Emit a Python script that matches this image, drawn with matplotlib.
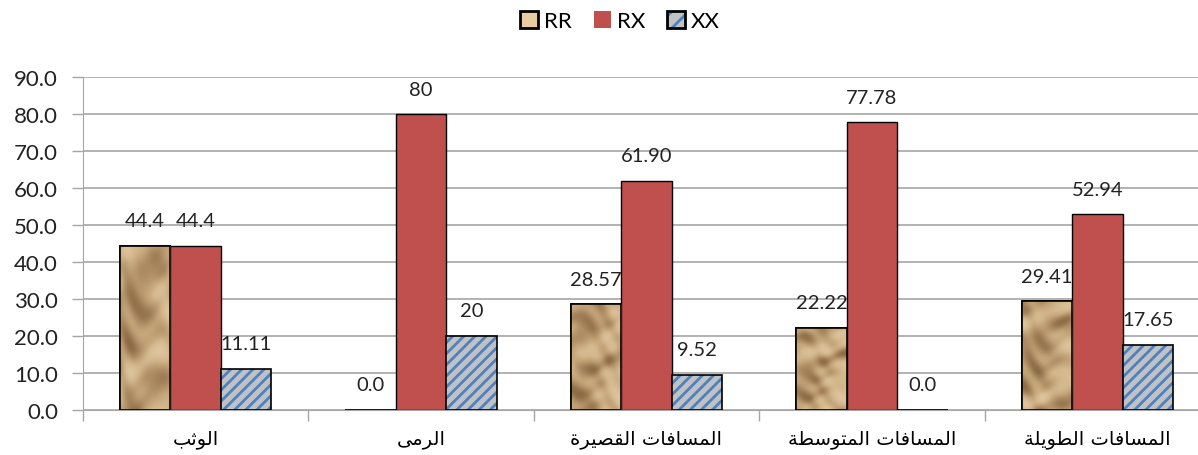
import numpy as np
import matplotlib
matplotlib.use('Agg')
import matplotlib.pyplot as plt
from matplotlib.patches import Patch

# Data.
categories = ['الوثب', 'الرمى', 'المسافات القصيرة', 'المسافات المتوسطة', 'المسافات الطويلة']
rr = [44.4, 0.0, 28.57, 22.22, 29.41]
rx = [44.4, 80, 61.90, 77.78, 52.94]
xx = [11.11, 20, 9.52, 0.0, 17.65]
rr_labels = ['44.4', '0.0', '28.57', '22.22', '29.41']
rx_labels = ['44.4', '80', '61.90', '77.78', '52.94']
xx_labels = ['11.11', '20', '9.52', '0.0', '17.65']
series_names = ['RR', 'RX', 'XX']

# Minimal Arabic shaping (matplotlib has no shaping / bidi of its own).
FORMS = {
    'ا': ('\uFE8D', '\uFE8E', None, None),
    'ب': ('\uFE8F', '\uFE90', '\uFE91', '\uFE92'),
    'ة': ('\uFE93', '\uFE94', None, None),
    'ت': ('\uFE95', '\uFE96', '\uFE97', '\uFE98'),
    'ث': ('\uFE99', '\uFE9A', '\uFE9B', '\uFE9C'),
    'ر': ('\uFEAD', '\uFEAE', None, None),
    'س': ('\uFEB1', '\uFEB2', '\uFEB3', '\uFEB4'),
    'ص': ('\uFEB9', '\uFEBA', '\uFEBB', '\uFEBC'),
    'ط': ('\uFEC1', '\uFEC2', '\uFEC3', '\uFEC4'),
    'ف': ('\uFED1', '\uFED2', '\uFED3', '\uFED4'),
    'ق': ('\uFED5', '\uFED6', '\uFED7', '\uFED8'),
    'ل': ('\uFEDD', '\uFEDE', '\uFEDF', '\uFEE0'),
    'م': ('\uFEE1', '\uFEE2', '\uFEE3', '\uFEE4'),
    'و': ('\uFEED', '\uFEEE', None, None),
    'ى': ('\uFEEF', '\uFEF0', None, None),
    'ي': ('\uFEF1', '\uFEF2', '\uFEF3', '\uFEF4'),
}


def shape(text):
    out = []
    for i, ch in enumerate(text):
        if ch not in FORMS:
            out.append(ch)
            continue
        prev = text[i - 1] if i > 0 else ''
        nxt = text[i + 1] if i + 1 < len(text) else ''
        join_prev = prev in FORMS and FORMS[prev][2] is not None
        join_next = nxt in FORMS and FORMS[ch][2] is not None
        iso, fin, ini, med = FORMS[ch]
        if join_prev and join_next:
            out.append(med)
        elif join_prev:
            out.append(fin)
        elif join_next:
            out.append(ini)
        else:
            out.append(iso)
    return ''.join(out)[::-1]


def stone_texture(phase):
    # smooth deterministic "rock" look, only used as a fill style
    yy, xg = np.mgrid[0:200, 0:60]
    return (np.sin(xg * 0.07 + yy * 0.045 + phase + 1.4 * np.sin(yy * 0.04 + phase))
            + 0.6 * np.sin(xg * 0.17 - yy * 0.09 + 1.1 * np.sin(xg * 0.09 + phase))
            + 0.4 * np.sin(yy * 0.15 + 1.8 * np.sin(xg * 0.11 + yy * 0.02)))


plt.rcParams['font.family'] = ['Lato', 'DejaVu Sans']
plt.rcParams['hatch.linewidth'] = 2.0

fig = plt.figure(figsize=(11.98, 4.56), dpi=100)
ax = fig.add_axes([83 / 1198, 1 - 411 / 456, 1127 / 1198, 333 / 456])

x = np.arange(len(categories))
w = 0.224

# RR bars: tan with a stone-like texture clipped into each bar
rr_bars = ax.bar(x - w, rr, w, color='#C0A076', edgecolor='black', linewidth=1.2, zorder=3)
stone = matplotlib.colors.LinearSegmentedColormap.from_list(
    'stone', ['#8C6B45', '#A98860', '#C2A277', '#D3B78D', '#DEC49E'])
for k, b in enumerate(rr_bars):
    if b.get_height() <= 0:
        continue
    im = ax.imshow(stone_texture(1.3 * k), cmap=stone,
                   extent=(b.get_x(), b.get_x() + b.get_width(), 0, b.get_height()),
                   aspect='auto', zorder=3.5, interpolation='bilinear')
    im.set_clip_path(b)
    ax.bar(b.get_x() + b.get_width() / 2, b.get_height(), w, fill=False, edgecolor='black',
           linewidth=1.2, zorder=4)

ax.bar(x, rx, w, color='#C0504D', edgecolor='black', linewidth=1.0, zorder=3)

ax.bar(x + w, xx, w, color='#C0C2C6', edgecolor='#4F81BD', hatch='///', linewidth=0, zorder=3)
ax.bar(x + w, xx, w, fill=False, edgecolor='black', linewidth=1.2, zorder=4)

# data labels
for vals, labs, off in [(rr, rr_labels, -w), (rx, rx_labels, 0), (xx, xx_labels, w)]:
    for i, (v, t) in enumerate(zip(vals, labs)):
        ax.annotate(t, (x[i] + off, v), xytext=(0, 18), textcoords='offset points',
                    ha='center', va='center', fontsize=14.5, color='#222222')

ax.set_xlim(-0.5, len(categories) - 0.5)
ax.set_ylim(0, 90)
ax.set_yticks(np.arange(0, 91, 10))
ax.set_yticklabels([f'{v:.1f}' for v in np.arange(0, 91, 10)], fontsize=16, color='#222222')
ax.yaxis.grid(True, color='#A6A6A6', linewidth=1.2, zorder=0)
ax.set_axisbelow(True)

ax.set_xticks(x)
ax.set_xticklabels([shape(c) for c in categories], fontsize=14, family=['DejaVu Sans'])
ax.tick_params(axis='x', length=0, pad=14)
ax.set_xticks(np.arange(-0.5, len(categories) + 0.5, 1), minor=True)
ax.tick_params(axis='x', which='minor', length=8, color='#A6A6A6', width=1)
ax.tick_params(axis='y', length=8, color='#A6A6A6', width=1, pad=10)

for s in ['top', 'right']:
    ax.spines[s].set_visible(False)
ax.spines['left'].set_color('#A6A6A6')
ax.spines['bottom'].set_color('#A6A6A6')

handles = [Patch(facecolor='#E8CCA2', edgecolor='black', linewidth=2),
           Patch(facecolor='#C0504D', edgecolor='none'),
           (Patch(facecolor='#C0C2C6', edgecolor='#4F81BD', hatch='//', linewidth=0),
            Patch(fill=False, edgecolor='black', linewidth=2))]
leg = fig.legend(handles, series_names, loc='center', bbox_to_anchor=(620 / 1198, 1 - 22 / 456),
                 ncol=3, frameon=False, fontsize=16, handlelength=0.8, handleheight=0.8,
                 handletextpad=0.25, columnspacing=1.0)

fig.savefig('out.png', dpi=100)
